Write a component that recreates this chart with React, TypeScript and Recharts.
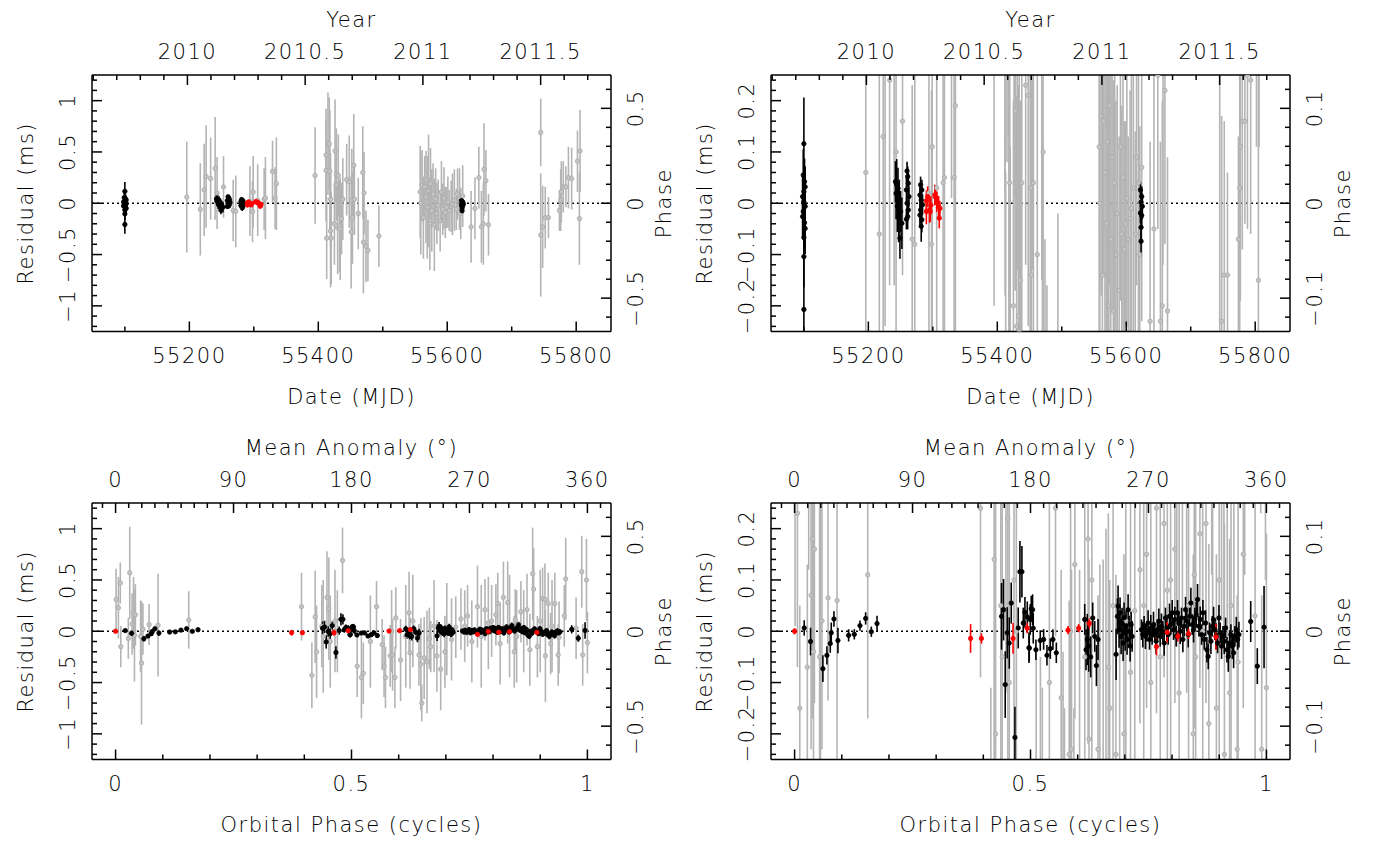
import React from 'react';
import { ScatterChart, Scatter, XAxis, YAxis, ErrorBar, ReferenceLine } from 'recharts';

const FONT = "'DejaVu Sans', sans-serif";
const GRAY = '#b4b4b4';
const BLACK = '#000000';
const RED = '#ff0000';
const PERIOD_MS = 1.85; // pulse period: converts residual (ms) to phase

// [MJD, residual (ms), error (ms)]
const grayByDate: number[][] = [
  [55196, 0.06, 0.54], [55217, -0.06, 0.45], [55223, 0.13, 0.45], [55226, 0.26, 0.5],
  [55233, 0.24, 0.4], [55240, 0.34, 0.5], [55243, 0.1, 0.35], [55253, 0.16, 0.3],
  [55268, -0.07, 0.3], [55272, -0.08, 0.35], [55294, 0.02, 0.34], [55298, -0.08, 0.3],
  [55299, 0.11, 0.35], [55306, 0.03, 0.35], [55316, 0.04, 0.3], [55318, 0.05, 0.4],
  [55329, 0.31, 0.3], [55333, 0.05, 0.3], [55335, 0.19, 0.45], [55395, 0.27, 0.47],
  [55412, 0.47, 0.45], [55412, 0.32, 0.5], [55413, -0.34, 0.4], [55415, 0.58, 0.5],
  [55417, 0.58, 0.45], [55418, 0.31, 0.6], [55419, 0.04, 0.45], [55419, -0.27, 0.55],
  [55420, -0.34, 0.45], [55425, -0.2, 0.4], [55426, 0.51, 0.5], [55428, 0.28, 0.45],
  [55428, 0.18, 0.35], [55430, -0.24, 0.45], [55431, 0.27, 0.4], [55433, -0.22, 0.45],
  [55434, -0.25, 0.5], [55436, -0.15, 0.35], [55438, 0.04, 0.4], [55444, 0.23, 0.35],
  [55448, 0.21, 0.45], [55451, -0.28, 0.55], [55452, 0.03, 0.5], [55453, -0.14, 0.45],
  [55455, 0.37, 0.5], [55456, 0.04, 0.35], [55462, -0.1, 0.35], [55469, 0.3, 0.45],
  [55471, 0.1, 0.4], [55470, -0.38, 0.5], [55474, -0.42, 0.35], [55477, -0.46, 0.3],
  [55494, -0.32, 0.3],
  [55558, 0.11, 0.45], [55559, 0.0, 0.5], [55561, 0.17, 0.35], [55563, -0.14, 0.4],
  [55565, 0.16, 0.3], [55567, 0.06, 0.45], [55569, -0.04, 0.5], [55571, 0.12, 0.55],
  [55573, -0.2, 0.45], [55574, 0.19, 0.35], [55576, -0.07, 0.4], [55578, 0.09, 0.3],
  [55580, -0.21, 0.45], [55582, 0.04, 0.3], [55584, -0.1, 0.3], [55586, -0.02, 0.25],
  [55589, -0.17, 0.3], [55591, 0.11, 0.3], [55593, -0.06, 0.25], [55595, 0.05, 0.3],
  [55597, -0.09, 0.25], [55599, -0.04, 0.2], [55601, 0.01, 0.25], [55603, -0.07, 0.2],
  [55606, -0.03, 0.25], [55608, -0.01, 0.3], [55611, 0.03, 0.3], [55614, -0.06, 0.2],
  [55616, 0.09, 0.25], [55619, 0.04, 0.3], [55621, -0.1, 0.25], [55624, 0.07, 0.3],
  [55637, -0.23, 0.35], [55643, -0.05, 0.3], [55649, 0.25, 0.3], [55653, -0.23, 0.35],
  [55656, -0.2, 0.4], [55657, 0.33, 0.45], [55660, 0.22, 0.3], [55664, -0.21, 0.3],
  [55745, 0.69, 0.33], [55745, -0.31, 0.6], [55748, -0.23, 0.4], [55752, -0.14, 0.3],
  [55757, -0.14, 0.2], [55774, -0.07, 0.2], [55776, 0.03, 0.3], [55777, 0.11, 0.3],
  [55780, 0.16, 0.25], [55784, 0.16, 0.2], [55788, 0.25, 0.3], [55793, 0.24, 0.3],
  [55802, 0.41, 0.3], [55806, 0.51, 0.4], [55805, -0.15, 0.45],
];

const blackByDate: number[][] = [
  [55100, 0.116, 0.09], [55099, 0.055, 0.05], [55101, 0.042, 0.045], [55102, 0.032, 0.04],
  [55100, 0.023, 0.05], [55098, 0.013, 0.04], [55100, 0.003, 0.05], [55102, -0.006, 0.04],
  [55099, -0.016, 0.05], [55098, -0.026, 0.04], [55101, -0.038, 0.05], [55102, -0.049, 0.05],
  [55100, -0.067, 0.05], [55100, -0.104, 0.06], [55100, -0.207, 0.09],
  [55242, 0.042, 0.04], [55244, 0.036, 0.05], [55246, 0.029, 0.04], [55243, 0.019, 0.05],
  [55248, 0.006, 0.04], [55245, -0.006, 0.05], [55250, -0.016, 0.04], [55247, -0.026, 0.05],
  [55252, -0.039, 0.05], [55249, -0.068, 0.04],
  [55260, 0.063, 0.018], [55261, 0.052, 0.02], [55262, 0.039, 0.02], [55259, 0.026, 0.025],
  [55263, 0.013, 0.02], [55260, 0.0, 0.025], [55262, -0.013, 0.02], [55261, -0.026, 0.025],
  [55259, -0.031, 0.02],
  [55281, 0.036, 0.016], [55283, 0.026, 0.02], [55280, 0.016, 0.02], [55282, 0.006, 0.025],
  [55284, -0.003, 0.02], [55281, -0.013, 0.025], [55280, -0.023, 0.02], [55283, -0.032, 0.025],
  [55282, -0.045, 0.03],
  [55622, 0.026, 0.015], [55624, 0.013, 0.02], [55623, 0.002, 0.02], [55625, -0.006, 0.025],
  [55622, -0.019, 0.02], [55624, -0.024, 0.025], [55623, -0.047, 0.025], [55623, -0.074, 0.028],
];

const redByDate: number[][] = [
  [55290, 0.005, 0.02], [55290, -0.016, 0.025], [55292, 0.013, 0.02], [55295, -0.013, 0.025],
  [55296, -0.016, 0.02], [55297, -0.004, 0.018], [55303, 0.016, 0.02], [55304, 0.012, 0.015],
  [55306, 0.003, 0.02], [55306, 0.01, 0.012], [55309, -0.006, 0.02], [55310, -0.029, 0.02],
  [55311, -0.01, 0.015],
];

// [orbital phase, residual (ms), error (ms)]
const grayByOrbit: number[][] = [
  [0.001, 0.31, 0.3], [0.006, 0.23, 0.3], [0.010, 0.47, 0.2], [0.011, -0.15, 0.2],
  [0.027, -0.07, 0.2], [0.030, 0.57, 0.45], [0.035, 0.07, 0.3], [0.038, 0.18, 0.35],
  [0.040, -0.04, 0.45], [0.042, 0.16, 0.3], [0.053, -0.05, 0.35], [0.055, -0.31, 0.6],
  [0.058, 0.02, 0.25], [0.071, 0.065, 0.2], [0.090, 0.06, 0.5], [0.155, 0.11, 0.28],
  [0.394, 0.24, 0.33], [0.416, -0.43, 0.32], [0.423, 0.14, 0.45], [0.426, -0.2, 0.45],
  [0.437, 0.05, 0.4], [0.440, -0.05, 0.55], [0.448, 0.33, 0.45], [0.452, 0.22, 0.5],
  [0.455, -0.1, 0.45], [0.465, 0.1, 0.5], [0.470, 0.0, 0.4], [0.481, 0.69, 0.32],
  [0.512, -0.34, 0.3], [0.521, -0.45, 0.4], [0.525, -0.41, 0.3], [0.540, -0.1, 0.45],
  [0.553, 0.24, 0.25], [0.565, -0.13, 0.25], [0.569, -0.34, 0.3], [0.572, -0.45, 0.3],
  [0.582, -0.24, 0.3], [0.585, 0.0, 0.4], [0.587, -0.23, 0.35], [0.592, -0.45, 0.3],
  [0.594, 0.13, 0.3], [0.604, -0.28, 0.4], [0.615, -0.05, 0.5], [0.622, 0.18, 0.4],
  [0.624, -0.21, 0.35], [0.630, 0.1, 0.45], [0.643, -0.23, 0.3], [0.647, -0.32, 0.45],
  [0.649, -0.70, 0.18], [0.654, -0.26, 0.4], [0.660, -0.3, 0.5], [0.665, -0.07, 0.3],
  [0.668, -0.15, 0.25], [0.675, 0.05, 0.45], [0.681, -0.24, 0.35], [0.689, -0.37, 0.4],
  [0.698, -0.2, 0.35], [0.702, 0.02, 0.45], [0.712, -0.08, 0.4], [0.721, 0.04, 0.3],
  [0.732, 0.12, 0.3], [0.740, 0.05, 0.35], [0.746, 0.15, 0.3], [0.755, -0.1, 0.4],
  [0.767, 0.24, 0.4], [0.775, -0.05, 0.5], [0.783, 0.21, 0.3], [0.790, 0.08, 0.45],
  [0.797, 0.10, 0.35], [0.806, 0.16, 0.3], [0.810, 0.27, 0.3], [0.815, -0.12, 0.4],
  [0.822, 0.33, 0.35], [0.831, 0.28, 0.4], [0.835, 0.05, 0.5], [0.845, -0.2, 0.35],
  [0.847, 0.11, 0.3], [0.850, -0.05, 0.45], [0.859, 0.19, 0.3], [0.865, 0.0, 0.4],
  [0.872, 0.21, 0.35], [0.878, -0.18, 0.35], [0.884, 0.56, 0.45], [0.886, 0.41, 0.4],
  [0.894, -0.15, 0.3], [0.900, 0.1, 0.5], [0.905, 0.32, 0.3], [0.910, 0.31, 0.35],
  [0.911, -0.24, 0.45], [0.917, 0.27, 0.3], [0.922, -0.12, 0.3], [0.925, 0.05, 0.45],
  [0.931, 0.27, 0.3], [0.938, -0.23, 0.3], [0.940, -0.06, 0.35], [0.951, 0.15, 0.3],
  [0.954, 0.51, 0.4], [0.976, 0.03, 0.3], [0.988, 0.58, 0.35], [0.990, -0.23, 0.3],
  [0.998, 0.5, 0.4], [1.000, -0.11, 0.3],
];

const blackByOrbit: number[][] = [
  [0.0204, 0.0065, 0.015], [0.0338, -0.020, 0.027], [0.0600, -0.073, 0.026], [0.0685, -0.047, 0.018],
  [0.0756, -0.024, 0.018], [0.0777, -0.003, 0.02], [0.0834, 0.024, 0.015], [0.0919, -0.018, 0.025],
  [0.1145, -0.008, 0.012], [0.1266, -0.006, 0.01], [0.1386, 0.011, 0.01], [0.1506, 0.025, 0.012],
  [0.1626, -0.001, 0.01], [0.1747, 0.015, 0.015],
  [0.4386, 0.029, 0.065], [0.4429, 0.042, 0.06], [0.4464, -0.104, 0.065], [0.4507, -0.003, 0.05],
  [0.4550, -0.023, 0.05], [0.4592, 0.055, 0.04], [0.4670, -0.207, 0.06], [0.4740, 0.0065, 0.04],
  [0.4776, 0.116, 0.06], [0.4818, 0.116, 0.05], [0.4847, 0.016, 0.03], [0.4882, 0.037, 0.03],
  [0.4932, 0.028, 0.03], [0.4968, -0.032, 0.03], [0.4974, -0.033, 0.025], [0.4995, 0.023, 0.03],
  [0.5016, 0.044, 0.025], [0.5044, 0.042, 0.03], [0.5058, 0.006, 0.03], [0.5115, -0.036, 0.02],
  [0.5207, -0.018, 0.02], [0.5278, -0.016, 0.02], [0.5349, -0.047, 0.02], [0.5420, -0.034, 0.02],
  [0.5476, -0.016, 0.02], [0.5547, -0.042, 0.02],
  [0.6149, 0.023, 0.03], [0.6177, -0.036, 0.04], [0.6205, -0.016, 0.05], [0.6234, -0.029, 0.05],
  [0.6276, -0.050, 0.04], [0.6319, 0.026, 0.03], [0.6361, -0.010, 0.03], [0.6397, -0.067, 0.04],
  [0.6432, -0.016, 0.04],
  [0.6814, -0.045, 0.05], [0.6842, 0.029, 0.035], [0.6856, 0.049, 0.04], [0.6877, 0.003, 0.035],
  [0.6898, 0.036, 0.03], [0.6920, -0.010, 0.035], [0.6941, 0.016, 0.03], [0.6962, -0.023, 0.035],
  [0.6983, 0.026, 0.03], [0.7005, -0.003, 0.035], [0.7026, 0.010, 0.03], [0.7047, -0.016, 0.03],
  [0.7069, 0.042, 0.03], [0.7090, 0.000, 0.03], [0.7111, -0.029, 0.03], [0.7133, 0.013, 0.025],
  [0.7154, -0.010, 0.03],
  [0.7352, 0.003, 0.02], [0.7380, -0.0065, 0.025], [0.7408, 0.0097, 0.02], [0.7437, -0.0097, 0.025],
  [0.7465, 0.000, 0.02], [0.7493, 0.016, 0.025], [0.7522, -0.016, 0.02], [0.7550, 0.0065, 0.025],
  [0.7578, -0.0065, 0.02], [0.7607, 0.013, 0.025], [0.7635, -0.003, 0.02], [0.7663, -0.0195, 0.025],
  [0.7692, 0.003, 0.02], [0.7720, 0.0195, 0.025], [0.7748, -0.0097, 0.02], [0.7776, 0.0097, 0.025],
  [0.7805, 0.000, 0.02], [0.7833, -0.023, 0.025], [0.7861, 0.026, 0.02], [0.7890, 0.0065, 0.025],
  [0.7918, -0.0065, 0.02], [0.7946, 0.029, 0.025], [0.7975, 0.013, 0.02], [0.8003, 0.036, 0.025],
  [0.8031, 0.003, 0.02], [0.8060, 0.023, 0.025], [0.8088, -0.0097, 0.02], [0.8116, 0.036, 0.025],
  [0.8145, 0.016, 0.02], [0.8173, 0.000, 0.025], [0.8201, 0.026, 0.02], [0.8229, -0.016, 0.025],
  [0.8258, 0.0097, 0.02], [0.8286, 0.042, 0.025], [0.8314, 0.0195, 0.02], [0.8343, -0.0065, 0.025],
  [0.8371, 0.029, 0.02], [0.8399, 0.055, 0.03], [0.8428, 0.013, 0.02], [0.8456, 0.003, 0.025],
  [0.8484, 0.026, 0.02], [0.8513, 0.032, 0.025], [0.8541, 0.062, 0.03], [0.8569, 0.0097, 0.02],
  [0.8597, 0.023, 0.025], [0.8626, -0.0065, 0.02], [0.8654, 0.036, 0.025], [0.8682, -0.016, 0.02],
  [0.8711, 0.016, 0.025], [0.8739, -0.036, 0.025], [0.8767, -0.049, 0.025], [0.8796, -0.003, 0.02],
  [0.8824, -0.0195, 0.025], [0.8852, 0.0097, 0.02], [0.8880, 0.0227, 0.025], [0.8909, 0.003, 0.02],
  [0.8937, -0.0097, 0.025], [0.8965, -0.023, 0.02], [0.8994, 0.026, 0.025], [0.9022, -0.003, 0.02],
  [0.9050, -0.029, 0.025], [0.9079, -0.0097, 0.02], [0.9107, -0.0195, 0.025], [0.9135, 0.0065, 0.02],
  [0.9164, -0.036, 0.025], [0.9192, -0.049, 0.03], [0.9220, -0.023, 0.025], [0.9248, -0.0065, 0.02],
  [0.9277, -0.029, 0.025], [0.9305, -0.042, 0.03], [0.9333, -0.0097, 0.02], [0.9362, 0.003, 0.025],
  [0.9390, -0.016, 0.02], [0.9418, -0.0065, 0.025],
  [0.9667, 0.019, 0.04], [0.9807, -0.068, 0.035], [0.9950, 0.008, 0.08],
];

const redByOrbit: number[][] = [
  [0.000, 0.0, 0.006], [0.373, -0.014, 0.028], [0.396, -0.014, 0.01], [0.463, -0.014, 0.03],
  [0.493, 0.006, 0.01], [0.5795, 0.002, 0.008], [0.6021, 0.006, 0.008], [0.6248, 0.015, 0.01],
  [0.767, -0.030, 0.017], [0.7897, -0.002, 0.02], [0.8123, -0.010, 0.01], [0.835, -0.005, 0.01],
  [0.893, -0.011, 0.025],
];

// axis ranges and labelled ticks
const mjdDomain = [55049, 55854];
const mjdMajor = [55200, 55400, 55600, 55800];
const yearMajor = [2010, 2010.5, 2011, 2011.5];
const orbitDomain = [-0.05, 1.05];
const orbitMajor = [0, 0.5, 1];
const anomalyMajor = [0, 90, 180, 270, 360];
const wideResMajor = [-1, -0.5, 0, 0.5, 1];
const widePhaseMajor = [-0.5, 0, 0.5];
const zoomResMajor = [-0.2, -0.1, 0, 0.1, 0.2];
const zoomPhaseMajor = [-0.1, 0, 0.1];

const steps = (a: number, b: number, d: number) =>
  Array.from({ length: Math.round((b - a) / d) + 1 }, (_, i) => +(a + i * d).toFixed(5));

const mjdToYear = (m: number) => 2010 + (m - 55197) / 365.25;
const yearDomain = mjdDomain.map(mjdToYear);
const anomalyDomain = orbitDomain.map((p) => p * 360);

const fmt = (v: number) => (v < 0 ? '\u2212' + Math.abs(v) : String(v));

const textStyle = { fontFamily: FONT, fontSize: 21, fontWeight: 200, letterSpacing: 1.5, fill: '#000' };

type Side = 'bottom' | 'top' | 'left' | 'right';

const makeTick = (side: Side, major: number[]) => (props: any) => {
  const { x, y, payload } = props;
  const v = payload.value;
  const isMajor = major.some((m) => Math.abs(m - v) < 1e-6);
  const len = isMajor ? 10 : 5;
  let line: any = null;
  let label: any = null;
  if (side === 'bottom') {
    line = <line x1={x} y1={y} x2={x} y2={y - len} />;
    if (isMajor) label = <text x={x} y={y + 31} textAnchor="middle" style={textStyle}>{fmt(v)}</text>;
  } else if (side === 'top') {
    line = <line x1={x} y1={y} x2={x} y2={y + len} />;
    if (isMajor) label = <text x={x} y={y - 16.5} textAnchor="middle" style={textStyle}>{fmt(v)}</text>;
  } else if (side === 'left') {
    line = <line x1={x} y1={y} x2={x + len} y2={y} />;
    if (isMajor)
      label = (
        <text x={x - 17} y={y} textAnchor="middle" transform={`rotate(-90, ${x - 17}, ${y})`} style={textStyle}>
          {fmt(v)}
        </text>
      );
  } else {
    line = <line x1={x} y1={y} x2={x - len} y2={y} />;
    if (isMajor)
      label = (
        <text x={x + 32} y={y} textAnchor="middle" transform={`rotate(-90, ${x + 32}, ${y})`} style={textStyle}>
          {fmt(v)}
        </text>
      );
  }
  return (
    <g>
      <g stroke="#000" strokeWidth={1.5}>{line}</g>
      {label}
    </g>
  );
};

const makeTitle = (text: string, side: Side) => (props: any) => {
  const vb = props.viewBox || {};
  const { x = 0, y = 0, width = 0, height = 0 } = vb;
  if (side === 'bottom')
    return <text x={x + width / 2} y={y + 72} textAnchor="middle" style={textStyle}>{text}</text>;
  if (side === 'top')
    return <text x={x + width / 2} y={y + height - 48.5} textAnchor="middle" style={textStyle}>{text}</text>;
  const bx = side === 'left' ? x + 33 : x + 60;
  const cy = y + height / 2;
  return (
    <text x={bx} y={cy} textAnchor="middle" transform={`rotate(-90, ${bx}, ${cy})`} style={textStyle}>
      {text}
    </text>
  );
};

// keep only what lies inside the y window; error bars are cut at the frame
const rows = (pts: number[][], lim: number) =>
  pts
    .filter(([, y, err]) => y - err < lim && y + err > -lim)
    .map(([x, y, err]) => ({ x, y, err, bar: [Math.min(err, y + lim), Math.min(err, lim - y)] }));

const dot = (fill: string, stroke: string, lim: number) => (p: any) =>
  Math.abs(p.payload.y) > lim ? <g /> : (
    <circle cx={p.cx} cy={p.cy} r={2.2} fill={fill} stroke={stroke} strokeWidth={0.8} />
  );

interface PanelProps {
  bottomDomain: number[];
  bottomTicks: number[];
  bottomMajor: number[];
  bottomTitle: string;
  topDomain: number[];
  topTicks: number[];
  topMajor: number[];
  topTitle: string;
  resRange: number;
  resTicks: number[];
  resMajor: number[];
  phaseTicks: number[];
  phaseMajor: number[];
  gray: number[][];
  black: number[][];
  red: number[][];
}

function Panel(p: PanelProps) {
  const axisLine = { stroke: '#000', strokeWidth: 1.5 };
  const lim = p.resRange;
  const phaseRange = lim / PERIOD_MS;
  const series = [
    { pts: p.gray, color: GRAY, fill: '#c4c4c4', ring: '#a8a8a8' },
    { pts: p.black, color: BLACK, fill: '#000', ring: '#000' },
    { pts: p.red, color: RED, fill: RED, ring: RED },
  ];
  return (
    <ScatterChart width={690} height={421} margin={{ top: 0, right: 0, bottom: 0, left: 0 }}>
      <XAxis
        xAxisId="b" dataKey="x" type="number" orientation="bottom" height={89.5}
        domain={p.bottomDomain} allowDataOverflow ticks={p.bottomTicks} interval={0}
        tickLine={false} tickSize={0} tickMargin={0} axisLine={axisLine}
        tick={makeTick('bottom', p.bottomMajor)} label={makeTitle(p.bottomTitle, 'bottom')}
      />
      <XAxis
        xAxisId="t" dataKey="x" type="number" orientation="top" height={75}
        domain={p.topDomain} allowDataOverflow ticks={p.topTicks} interval={0}
        tickLine={false} tickSize={0} tickMargin={0} axisLine={axisLine}
        tick={makeTick('top', p.topMajor)} label={makeTitle(p.topTitle, 'top')}
      />
      <YAxis
        yAxisId="l" dataKey="y" type="number" orientation="left" width={92}
        domain={[-lim, lim]} allowDataOverflow ticks={p.resTicks} interval={0}
        tickLine={false} tickSize={0} tickMargin={0} axisLine={axisLine}
        tick={makeTick('left', p.resMajor)} label={makeTitle('Residual (ms)', 'left')}
      />
      <YAxis
        yAxisId="r" dataKey="y" type="number" orientation="right" width={79}
        domain={[-phaseRange, phaseRange]} allowDataOverflow ticks={p.phaseTicks} interval={0}
        tickLine={false} tickSize={0} tickMargin={0} axisLine={axisLine}
        tick={makeTick('right', p.phaseMajor)} label={makeTitle('Phase', 'right')}
      />
      <ReferenceLine xAxisId="b" yAxisId="l" y={0} stroke="#000" strokeWidth={1.5} strokeDasharray="2 3" />
      {series.map((s, i) => (
        <Scatter
          key={i} xAxisId="b" yAxisId="l" data={rows(s.pts, lim)} isAnimationActive={false}
          shape={dot(s.fill, s.ring, lim)}
        >
          <ErrorBar dataKey="bar" direction="y" width={0} stroke={s.color} strokeWidth={1.6} isAnimationActive={false} />
        </Scatter>
      ))}
    </ScatterChart>
  );
}

const datePanel = {
  bottomDomain: mjdDomain,
  bottomTicks: steps(55100, 55800, 100),
  bottomMajor: mjdMajor,
  bottomTitle: 'Date (MJD)',
  topDomain: yearDomain,
  topTicks: steps(2009.6, 2011.7, 0.1),
  topMajor: yearMajor,
  topTitle: 'Year',
};

const orbitPanel = {
  bottomDomain: orbitDomain,
  bottomTicks: steps(0, 1, 0.1),
  bottomMajor: orbitMajor,
  bottomTitle: 'Orbital Phase (cycles)',
  topDomain: anomalyDomain,
  topTicks: steps(-10, 370, 10),
  topMajor: anomalyMajor,
  topTitle: 'Mean Anomaly (\u00b0)',
};

const wideY = {
  resRange: 1.25,
  resTicks: steps(-1.2, 1.2, 0.1),
  resMajor: wideResMajor,
  phaseTicks: steps(-0.6, 0.6, 0.1),
  phaseMajor: widePhaseMajor,
};

const zoomY = {
  resRange: 0.25,
  resTicks: steps(-0.24, 0.24, 0.02),
  resMajor: zoomResMajor,
  phaseTicks: steps(-0.12, 0.12, 0.02),
  phaseMajor: zoomPhaseMajor,
};

export default function App() {
  const byDate = { gray: grayByDate, black: blackByDate, red: redByDate };
  const byOrbit = { gray: grayByOrbit, black: blackByOrbit, red: redByOrbit };
  return (
    <div style={{ position: 'absolute', left: 0, top: 0, width: 1379, height: 842, background: '#fff' }}>
      <div style={{ position: 'absolute', left: 0, top: 0 }}>
        <Panel {...datePanel} {...wideY} {...byDate} />
      </div>
      <div style={{ position: 'absolute', left: 679, top: 0 }}>
        <Panel {...datePanel} {...zoomY} {...byDate} />
      </div>
      <div style={{ position: 'absolute', left: 0, top: 428 }}>
        <Panel {...orbitPanel} {...wideY} {...byOrbit} />
      </div>
      <div style={{ position: 'absolute', left: 679, top: 428 }}>
        <Panel {...orbitPanel} {...zoomY} {...byOrbit} />
      </div>
    </div>
  );
}
